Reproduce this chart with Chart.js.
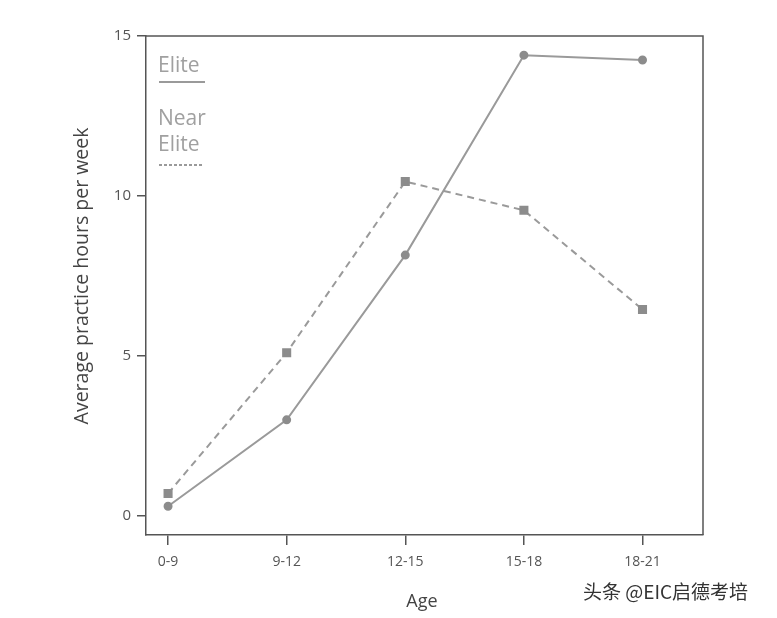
<!DOCTYPE html>
<html>
<head>
<meta charset="utf-8">
<script src="https://cdn.jsdelivr.net/npm/chart.js@4/dist/chart.umd.min.js"></script>
<style>
  html, body { margin: 0; padding: 0; background: #fff; }
  #wrap { width: 777px; height: 618px; }
</style>
</head>
<body>
<div id="wrap"><canvas id="myChart" width="777" height="618"></canvas></div>
<script>
var categories = ["0-9", "9-12", "12-15", "15-18", "18-21"];
var eliteValues = [0.3, 3.0, 8.15, 14.4, 14.25];
var nearEliteValues = [0.7, 5.1, 10.45, 9.55, 6.45];
var yTickValues = [0, 5, 10, 15];

var font = "'Open Sans', 'Noto Sans', sans-serif";
var axisColor = '#555555';
var lineColor = '#9a9a9a';
var markColor = '#8c8c8c';

function points(values) {
    return values.map(function (v, i) { return { x: i, y: v }; });
}

// box, legend, titles and watermark
var decorations = {
    id: 'decorations',
    afterDraw: function (chart) {
        var c = chart.ctx;
        var a = chart.chartArea;
        c.save();
        // top + right sides of the frame
        c.strokeStyle = axisColor;
        c.lineWidth = 1.5;
        c.beginPath();
        c.moveTo(a.left, a.top);
        c.lineTo(a.right, a.top);
        c.lineTo(a.right, a.bottom);
        c.stroke();

        // legend
        c.fillStyle = '#a0a0a0';
        c.font = '21px ' + font;
        c.textBaseline = 'alphabetic';
        c.textAlign = 'left';
        c.fillText('Elite', 158, 72);
        c.fillText('Near', 158, 125);
        c.fillText('Elite', 158, 151);
        c.strokeStyle = lineColor;
        c.lineWidth = 2;
        c.beginPath();
        c.moveTo(159, 82);
        c.lineTo(205, 82);
        c.stroke();
        c.setLineDash([3, 2]);
        c.beginPath();
        c.moveTo(159, 165);
        c.lineTo(203, 165);
        c.stroke();
        c.setLineDash([]);

        // axis titles
        c.fillStyle = '#444';
        c.font = '18px ' + font;
        c.textAlign = 'center';
        c.textBaseline = 'middle';
        c.fillText('Age', 422, 602);
        c.save();
        c.translate(82, 276);
        c.rotate(-Math.PI / 2);
        c.font = '19.5px ' + font;
        c.fillText('Average practice hours per week', 0, 0);
        c.restore();

        // watermark
        c.fillStyle = '#333';
        c.font = "19px 'Noto Sans CJK SC', sans-serif";
        c.textAlign = 'left';
        c.fillText('头条 @EIC启德考培', 583, 592);
        c.restore();
    }
};

var ctx = document.getElementById('myChart').getContext('2d');
var chart = new Chart(ctx, {
    type: 'line',
    data: {
        datasets: [{
            label: 'Elite',
            data: points(eliteValues),
            borderColor: lineColor,
            borderWidth: 2,
            pointStyle: 'circle',
            pointRadius: 3.5,
            pointBackgroundColor: markColor,
            pointBorderColor: markColor,
            tension: 0
        }, {
            label: 'Near Elite',
            data: points(nearEliteValues),
            borderColor: lineColor,
            borderWidth: 2,
            borderDash: [7, 5],
            pointStyle: 'rect',
            pointRadius: 5,
            pointBackgroundColor: markColor,
            pointBorderColor: markColor,
            tension: 0
        }]
    },
    options: {
        responsive: false,
        animation: false,
        layout: { padding: { top: 36, right: 74, left: 0, bottom: 0 } },
        plugins: { legend: { display: false }, tooltip: { enabled: false } },
        scales: {
            x: {
                type: 'linear',
                min: -0.186,
                max: 4.51,
                afterBuildTicks: function (s) {
                    s.ticks = categories.map(function (c, i) { return { value: i }; });
                },
                afterFit: function (s) { s.height = 83; },
                ticks: {
                    color: '#555',
                    font: { family: font, size: 14 },
                    padding: 9,
                    callback: function (v) { return categories[v]; }
                },
                grid: { drawOnChartArea: false, tickLength: 10, color: axisColor, lineWidth: 1.5 },
                border: { color: axisColor, width: 1.5 }
            },
            y: {
                min: -0.6,
                max: 15,
                afterBuildTicks: function (s) {
                    s.ticks = yTickValues.map(function (v) { return { value: v }; });
                },
                afterFit: function (s) { s.width = 146; },
                ticks: {
                    color: '#555',
                    font: { family: font, size: 15 },
                    padding: 6
                },
                grid: { drawOnChartArea: false, tickLength: 9, color: axisColor, lineWidth: 1.5 },
                border: { color: axisColor, width: 1.5 }
            }
        }
    },
    plugins: [decorations]
});
</script>
</body>
</html>
